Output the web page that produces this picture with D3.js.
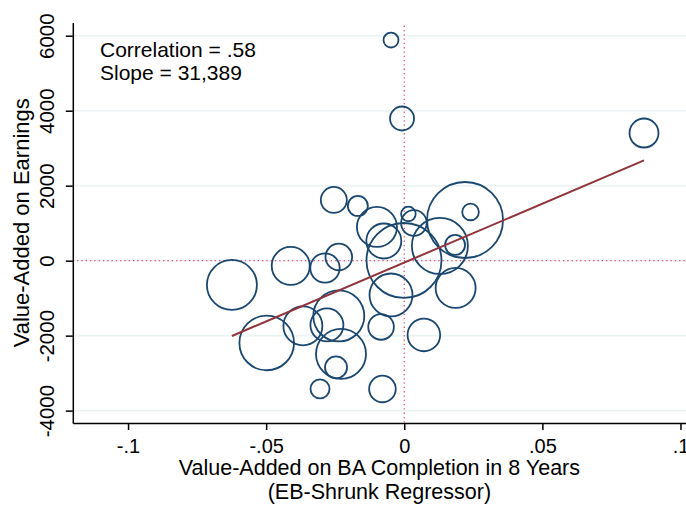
<!DOCTYPE html>
<html>
<head>
<meta charset="utf-8">
<script src="https://cdn.jsdelivr.net/npm/d3@7"></script>
<style>
    body { margin: 0; background: #fff; }
    svg { font-family: "Liberation Sans", Arial, sans-serif; }
</style>
</head>
<body>
<svg width="686" height="506"></svg>
<script>
// one bubble per school: VA on BA completion (x), VA on earnings (y), weight (area)
var vaCompletion = [-0.0048, -0.0008, 0.0868, -0.0255, -0.0168, 0.0220, 0.0240, -0.0099,
    0.0015, 0.0035, 0.0184, -0.0001, 0.0129, 0.0186, -0.0048, -0.0084, 0.0071, -0.0079,
    -0.0305, -0.0247, -0.0229, -0.0237, -0.0280, -0.0367, -0.0498, -0.0624, -0.0411,
    -0.0287, -0.0237, -0.0074];
var vaEarnings = [5885, 3792, 3405, 1619, 1459, 1085, 1299, 899,
    1245, 1005, 419, 5, 392, -728, -915, -1768, -1981, -3421,
    -3421, -2848, -2488, -1475, -1715, -1741, -2195, -648, -141,
    -195, 99, 525];
var weights = [56, 144, 210, 169, 100, 1444, 69, 400,
    53, 164, 100, 1406, 784, 400, 462, 164, 266, 177,
    90, 121, 625, 650, 272, 380, 745, 625, 361,
    216, 177, 306];

var xTicks = [-0.1, -0.05, 0, 0.05, 0.1];
var xTickLabels = ["-.1", "-.05", "0", ".05", ".1"];
var yTicks = [-4000, -2000, 0, 2000, 4000, 6000];
var yTickLabels = ["-4000", "-2000", "0", "2000", "4000", "6000"];

var fitSlope = 31389;
var fitIntercept = -50;
var notes = ["Correlation = .58", "Slope = 31,389"];

var svg = d3.select("svg");

var x = d3.scaleLinear().domain([-0.12, 0.102]).range([72.8, 686]);
var y = d3.scaleLinear().domain([-4330, 6350]).range([423, 22.6]);
var r = d3.scaleSqrt().domain([0, 1444]).range([0, 38]);

var x0 = x.domain()[0], x1 = x.domain()[1];
var y0 = y.domain()[0], y1 = y.domain()[1];

// grid lines
svg.append("g")
    .selectAll("line")
    .data(yTicks)
    .enter().append("line")
    .attr("x1", x(x0)).attr("x2", x(x1))
    .attr("y1", function (d) { return y(d); })
    .attr("y2", function (d) { return y(d); })
    .style("stroke", "#eaf2f3")
    .style("stroke-width", "1.6px");

// zero reference lines
var refColor = "#e0527e";
svg.append("line")
    .attr("x1", x(x0)).attr("x2", x(x1))
    .attr("y1", y(0)).attr("y2", y(0))
    .style("stroke", refColor).style("stroke-width", "1.3px")
    .style("stroke-dasharray", "1.3,3");
svg.append("line")
    .attr("x1", x(0)).attr("x2", x(0))
    .attr("y1", y(6270)).attr("y2", y(y0))
    .style("stroke", refColor).style("stroke-width", "1.3px")
    .style("stroke-dasharray", "1.3,3");

// bubbles
var pts = vaCompletion.map(function (d, i) {
    return {x: d, y: vaEarnings[i], w: weights[i]};
});
svg.append("g")
    .selectAll("circle")
    .data(pts)
    .enter().append("circle")
    .attr("cx", function (d) { return x(d.x); })
    .attr("cy", function (d) { return y(d.y); })
    .attr("r", function (d) { return r(d.w); })
    .style("fill", "none")
    .style("stroke", "#1a476f")
    .style("stroke-width", "1.8px");

// fitted line
var xExt = d3.extent(vaCompletion);
svg.append("line")
    .attr("x1", x(xExt[0])).attr("y1", y(fitIntercept + fitSlope * xExt[0]))
    .attr("x2", x(xExt[1])).attr("y2", y(fitIntercept + fitSlope * xExt[1]))
    .style("stroke", "#90353b")
    .style("stroke-width", "2px");

// axes
var xAxis = svg.append("g")
    .attr("transform", "translate(0," + y(y0) + ")")
    .call(d3.axisBottom(x).tickValues(xTicks)
        .tickFormat(function (d, i) { return xTickLabels[i]; })
        .tickSize(7).tickSizeOuter(0));
xAxis.select(".domain").style("stroke-width", "1.5px");
xAxis.selectAll(".tick line").style("stroke-width", "1.5px");
xAxis.selectAll("text")
    .attr("y", 30).attr("dy", 0)
    .style("font-size", "20px").style("fill", "#000");

var yAxis = svg.append("g")
    .attr("transform", "translate(" + x(x0) + ",0)")
    .call(d3.axisLeft(y).tickValues(yTicks)
        .tickFormat(function (d, i) { return yTickLabels[i]; })
        .tickSize(7).tickSizeOuter(0));
yAxis.select(".domain").style("stroke-width", "1.5px");
yAxis.selectAll(".tick line").style("stroke-width", "1.5px");
yAxis.selectAll("text")
    .attr("transform", "rotate(-90)")
    .attr("x", 0).attr("y", -19).attr("dy", 0)
    .attr("text-anchor", "middle")
    .style("font-size", "20.5px").style("fill", "#000");

// titles
var cx = (x(x0) + x(x1)) / 2;
svg.append("text")
    .attr("x", cx).attr("y", 475)
    .attr("text-anchor", "middle")
    .style("font-size", "21.5px")
    .text("Value-Added on BA Completion in 8 Years");
svg.append("text")
    .attr("x", cx).attr("y", 499)
    .attr("text-anchor", "middle")
    .style("font-size", "21.5px")
    .text("(EB-Shrunk Regressor)");
svg.append("text")
    .attr("transform", "translate(29," + (y(y0) + y(y1)) / 2 + ") rotate(-90)")
    .attr("text-anchor", "middle")
    .style("font-size", "22px")
    .text("Value-Added on Earnings");

svg.append("g")
    .selectAll("text")
    .data(notes)
    .enter().append("text")
    .attr("x", 100)
    .attr("y", function (d, i) { return 57 + i * 23; })
    .style("font-size", "21px")
    .text(function (d) { return d; });
</script>
</body>
</html>
